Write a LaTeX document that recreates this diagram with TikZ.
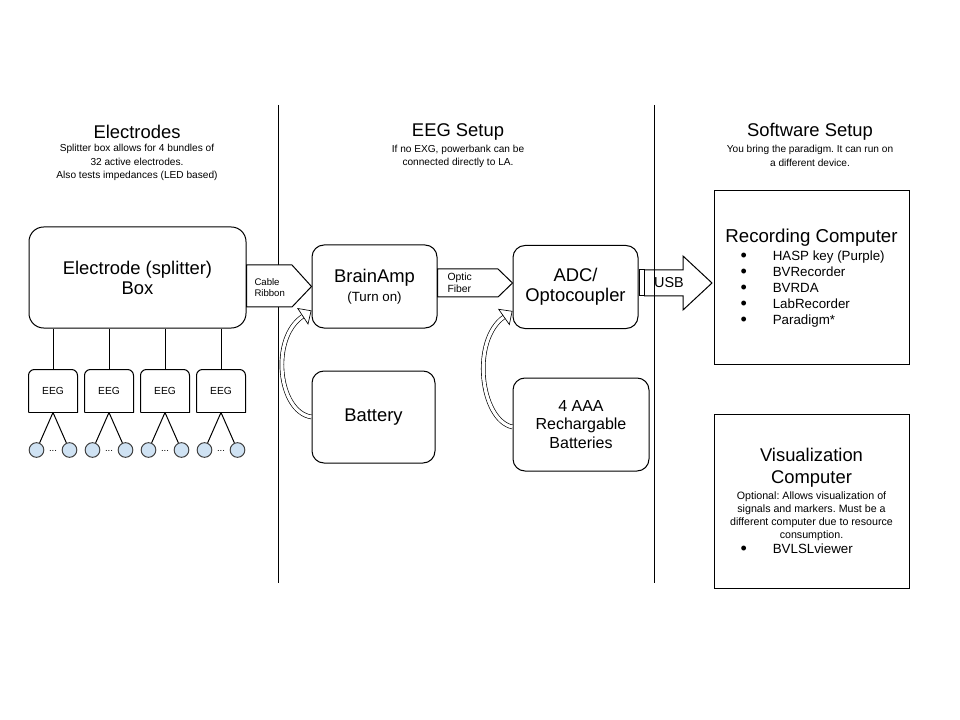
\documentclass[tikz,border=0pt]{standalone}
\usepackage{fontspec}
\setmainfont{Liberation Sans}
\usetikzlibrary{arrows.meta,calc}
\definecolor{electrodeblue}{HTML}{CFE2F3}
\newcommand{\bigbullet}{\raisebox{-0.2ex}{\scalebox{1.35}{\textbullet}}}
\frenchspacing
\begin{document}
\begin{tikzpicture}[x=0.75pt,y=0.75pt,yscale=-1,xscale=1,line width=0.75pt,
  heading/.style={font=\fontsize{13.8}{16}\selectfont, align=center, inner sep=0pt},
  subnote/.style={font=\fontsize{7.6}{10}\selectfont, align=center, inner sep=0pt},
  roundbox/.style={draw, rounded corners=9pt, inner sep=0pt, align=center, font=\fontsize{13.8}{15}\selectfont},
  squarebox/.style={draw, inner sep=0pt},
  eegbox/.style={minimum width=36pt, minimum height=31.5pt, inner sep=0pt, font=\fontsize{7.7}{9}\selectfont},
  electrode/.style={circle, draw=black!75, fill=electrodeblue, minimum size=11pt, inner sep=0pt},
  arrowtext/.style={font=\fontsize{7.2}{8.4}\selectfont, align=left, inner sep=0pt},
  itemlist/.style={font=\fontsize{10}{12}\selectfont, inner sep=0pt, anchor=west},
  powerarrow/.style={double=white, double distance=2.4pt, line width=0.5pt, -{Triangle[open, length=8pt, width=15pt]}}
]
\useasboundingbox (0,0) rectangle (960,720);

%Shape: Rounded Rectangle [id:ebox]
\node (ebox) [roundbox, rounded corners=11pt, minimum width=162.75pt, minimum height=75.75pt] at (137.5,277.5) {Electrode (splitter)\\Box};

%Shape: EEG boxes
\node (eeg1) [eegbox] at (53,391) {EEG};
\node (eeg2) [eegbox] at (109,391) {EEG};
\node (eeg3) [eegbox] at (165,391) {EEG};
\node (eeg4) [eegbox] at (221,391) {EEG};
\draw [rounded corners=4.5pt] (eeg1.south west) -- (eeg1.north west) -- (eeg1.north east) -- (eeg1.south east) ;
\draw [rounded corners=4.5pt] (eeg2.south west) -- (eeg2.north west) -- (eeg2.north east) -- (eeg2.south east) ;
\draw [rounded corners=4.5pt] (eeg3.south west) -- (eeg3.north west) -- (eeg3.north east) -- (eeg3.south east) ;
\draw [rounded corners=4.5pt] (eeg4.south west) -- (eeg4.north west) -- (eeg4.north east) -- (eeg4.south east) ;
\draw (eeg1.south west) -- (eeg1.south east) ;
\draw (eeg2.south west) -- (eeg2.south east) ;
\draw (eeg3.south west) -- (eeg3.south east) ;
\draw (eeg4.south west) -- (eeg4.south east) ;

%Straight Lines
\draw (ebox.south -| eeg1.north) -- (eeg1.north) ;
\draw (ebox.south -| eeg2.north) -- (eeg2.north) ;
\draw (ebox.south -| eeg3.north) -- (eeg3.north) ;
\draw (ebox.south -| eeg4.north) -- (eeg4.north) ;

%Shape: Circles
\node (el1a) [electrode] at (36.5,450) {};
\node (el1b) [electrode] at (69.5,450) {};
\node (el2a) [electrode] at (92.5,450) {};
\node (el2b) [electrode] at (125.5,450) {};
\node (el3a) [electrode] at (148.5,450) {};
\node (el3b) [electrode] at (181.5,450) {};
\node (el4a) [electrode] at (204.5,450) {};
\node (el4b) [electrode] at (237.5,450) {};
\draw (eeg1.south) -- (el1a) ;
\draw (eeg1.south) -- (el1b) ;
\draw (eeg2.south) -- (el2a) ;
\draw (eeg2.south) -- (el2b) ;
\draw (eeg3.south) -- (el3a) ;
\draw (eeg3.south) -- (el3b) ;
\draw (eeg4.south) -- (el4a) ;
\draw (eeg4.south) -- (el4b) ;

% Text Node
\draw (53,451) node (dots1) [arrowtext] {...};
\draw (109,451) node (dots2) [arrowtext] {...};
\draw (165,451) node (dots3) [arrowtext] {...};
\draw (221,451) node (dots4) [arrowtext] {...};

%Shape: Rounded Rectangles [EEG setup]
\node (brainamp) [roundbox, minimum width=93.75pt, minimum height=62.25pt] at (374.5,286.5) {BrainAmp\\[-1pt]{\fontsize{10}{12}\selectfont (Turn on)}};
\node (battery) [roundbox, minimum width=92.25pt, minimum height=69pt] at (373.5,417) {Battery};
\node (adc) [roundbox, minimum width=93.75pt, minimum height=62.25pt] at (575.5,287) {ADC/\\Optocoupler};
\node (batteries) [roundbox, font=\fontsize{12}{14}\selectfont, minimum width=102pt, minimum height=69.75pt] at (581,424.5) {4 AAA\\Rechargable\\Batteries};

%Shape: Rectangles [software setup]
\node (rec) [squarebox, minimum width=146.25pt, minimum height=129.75pt] at (811.5,277.5) {};
\node (vis) [squarebox, minimum width=146.25pt, minimum height=130.5pt] at (811.5,501) {};

%Straight Lines [dividers]
\coordinate (divAtop) at (278,105) ;
\coordinate (divAbot) at (278,583) ;
\coordinate (divBtop) at (654,105) ;
\coordinate (divBbot) at (654,583) ;
\draw (divAtop) -- (divAbot) ;
\draw (divBtop) -- (divBbot) ;

%Shape: Block Arrows
\draw [fill=white] (ebox.east |- 0,265) -- (292,265) -- (brainamp.west) -- (292,307) -- (ebox.east |- 0,307) -- cycle ;
\draw (brainamp.east |- 0,269) -- (498,269) -- (adc.west |- 0,283) -- (498,297) -- (brainamp.east |- 0,297) -- cycle ;
\draw (639,270) rectangle (644,296) ;
\draw (644,270) -- (683,270) -- (683,256) -- (712,283) -- (683,310) -- (683,296) -- (644,296) ;

%Curve Arrows
\draw [powerarrow] (battery.west) .. controls (278,412) and (270,338) .. ($(brainamp.west)+(0,24)$) ;
\draw [powerarrow] (batteries.west |- 0,427) .. controls (480,420) and (471,340) .. ($(adc.west)+(0,24)$) ;

% Text Node
\draw (254,287.5) node (cable) [arrowtext, anchor=west] {Cable\\Ribbon};
% Text Node
\draw (447,283) node (optic) [arrowtext, font=\fontsize{7.8}{9.3}\selectfont, anchor=west] {Optic\\Fiber};
% Text Node
\draw (669,283) node (usb) [font=\fontsize{10.8}{12}\selectfont, inner sep=0pt] {USB};

% Text Node
\draw (137,132) node (elhead) [heading] {Electrodes};
\draw (137,162.5) node (elnote) [subnote] {Splitter box allows for 4 bundles of\\32 active electrodes.\\Also tests impedances (LED based)};
% Text Node
\draw (458,132) node (eeghead) [heading] {EEG Setup};
\draw (458,156.5) node (eegnote) [subnote] {If no EXG, powerbank can be\\connected directly to LA.};
% Text Node
\draw (810,132) node (swhead) [heading] {Software Setup};
\draw (810,156) node (swnote) [subnote] {You bring the paradigm. It can run on\\a different device.};

% Text Node
\draw (811.5,238) node (rechead) [heading, font=\fontsize{14}{16}\selectfont] {Recording Computer};
\draw (740,289) node (reclist) [itemlist] {\begin{tabular}{@{}l@{\hspace{19.5pt}}l@{}}
\bigbullet & HASP key (Purple)\\
\bigbullet & BVRecorder\\
\bigbullet & BVRDA\\
\bigbullet & LabRecorder\\
\bigbullet & Paradigm*
\end{tabular}};
% Text Node
\draw (811.5,467.5) node (vishead) [heading, font=\fontsize{13.8}{16.2}\selectfont] {Visualization\\Computer};
\draw (811.5,516.5) node (visnote) [subnote, font=\fontsize{8}{9.8}\selectfont] {Optional: Allows visualization of\\signals and markers. Must be a\\different computer due to resource\\consumption.};
\draw (740,550) node (vislist) [itemlist] {\begin{tabular}{@{}l@{\hspace{19.5pt}}l@{}}
\bigbullet & BVLSLviewer
\end{tabular}};

\end{tikzpicture}
\end{document}
